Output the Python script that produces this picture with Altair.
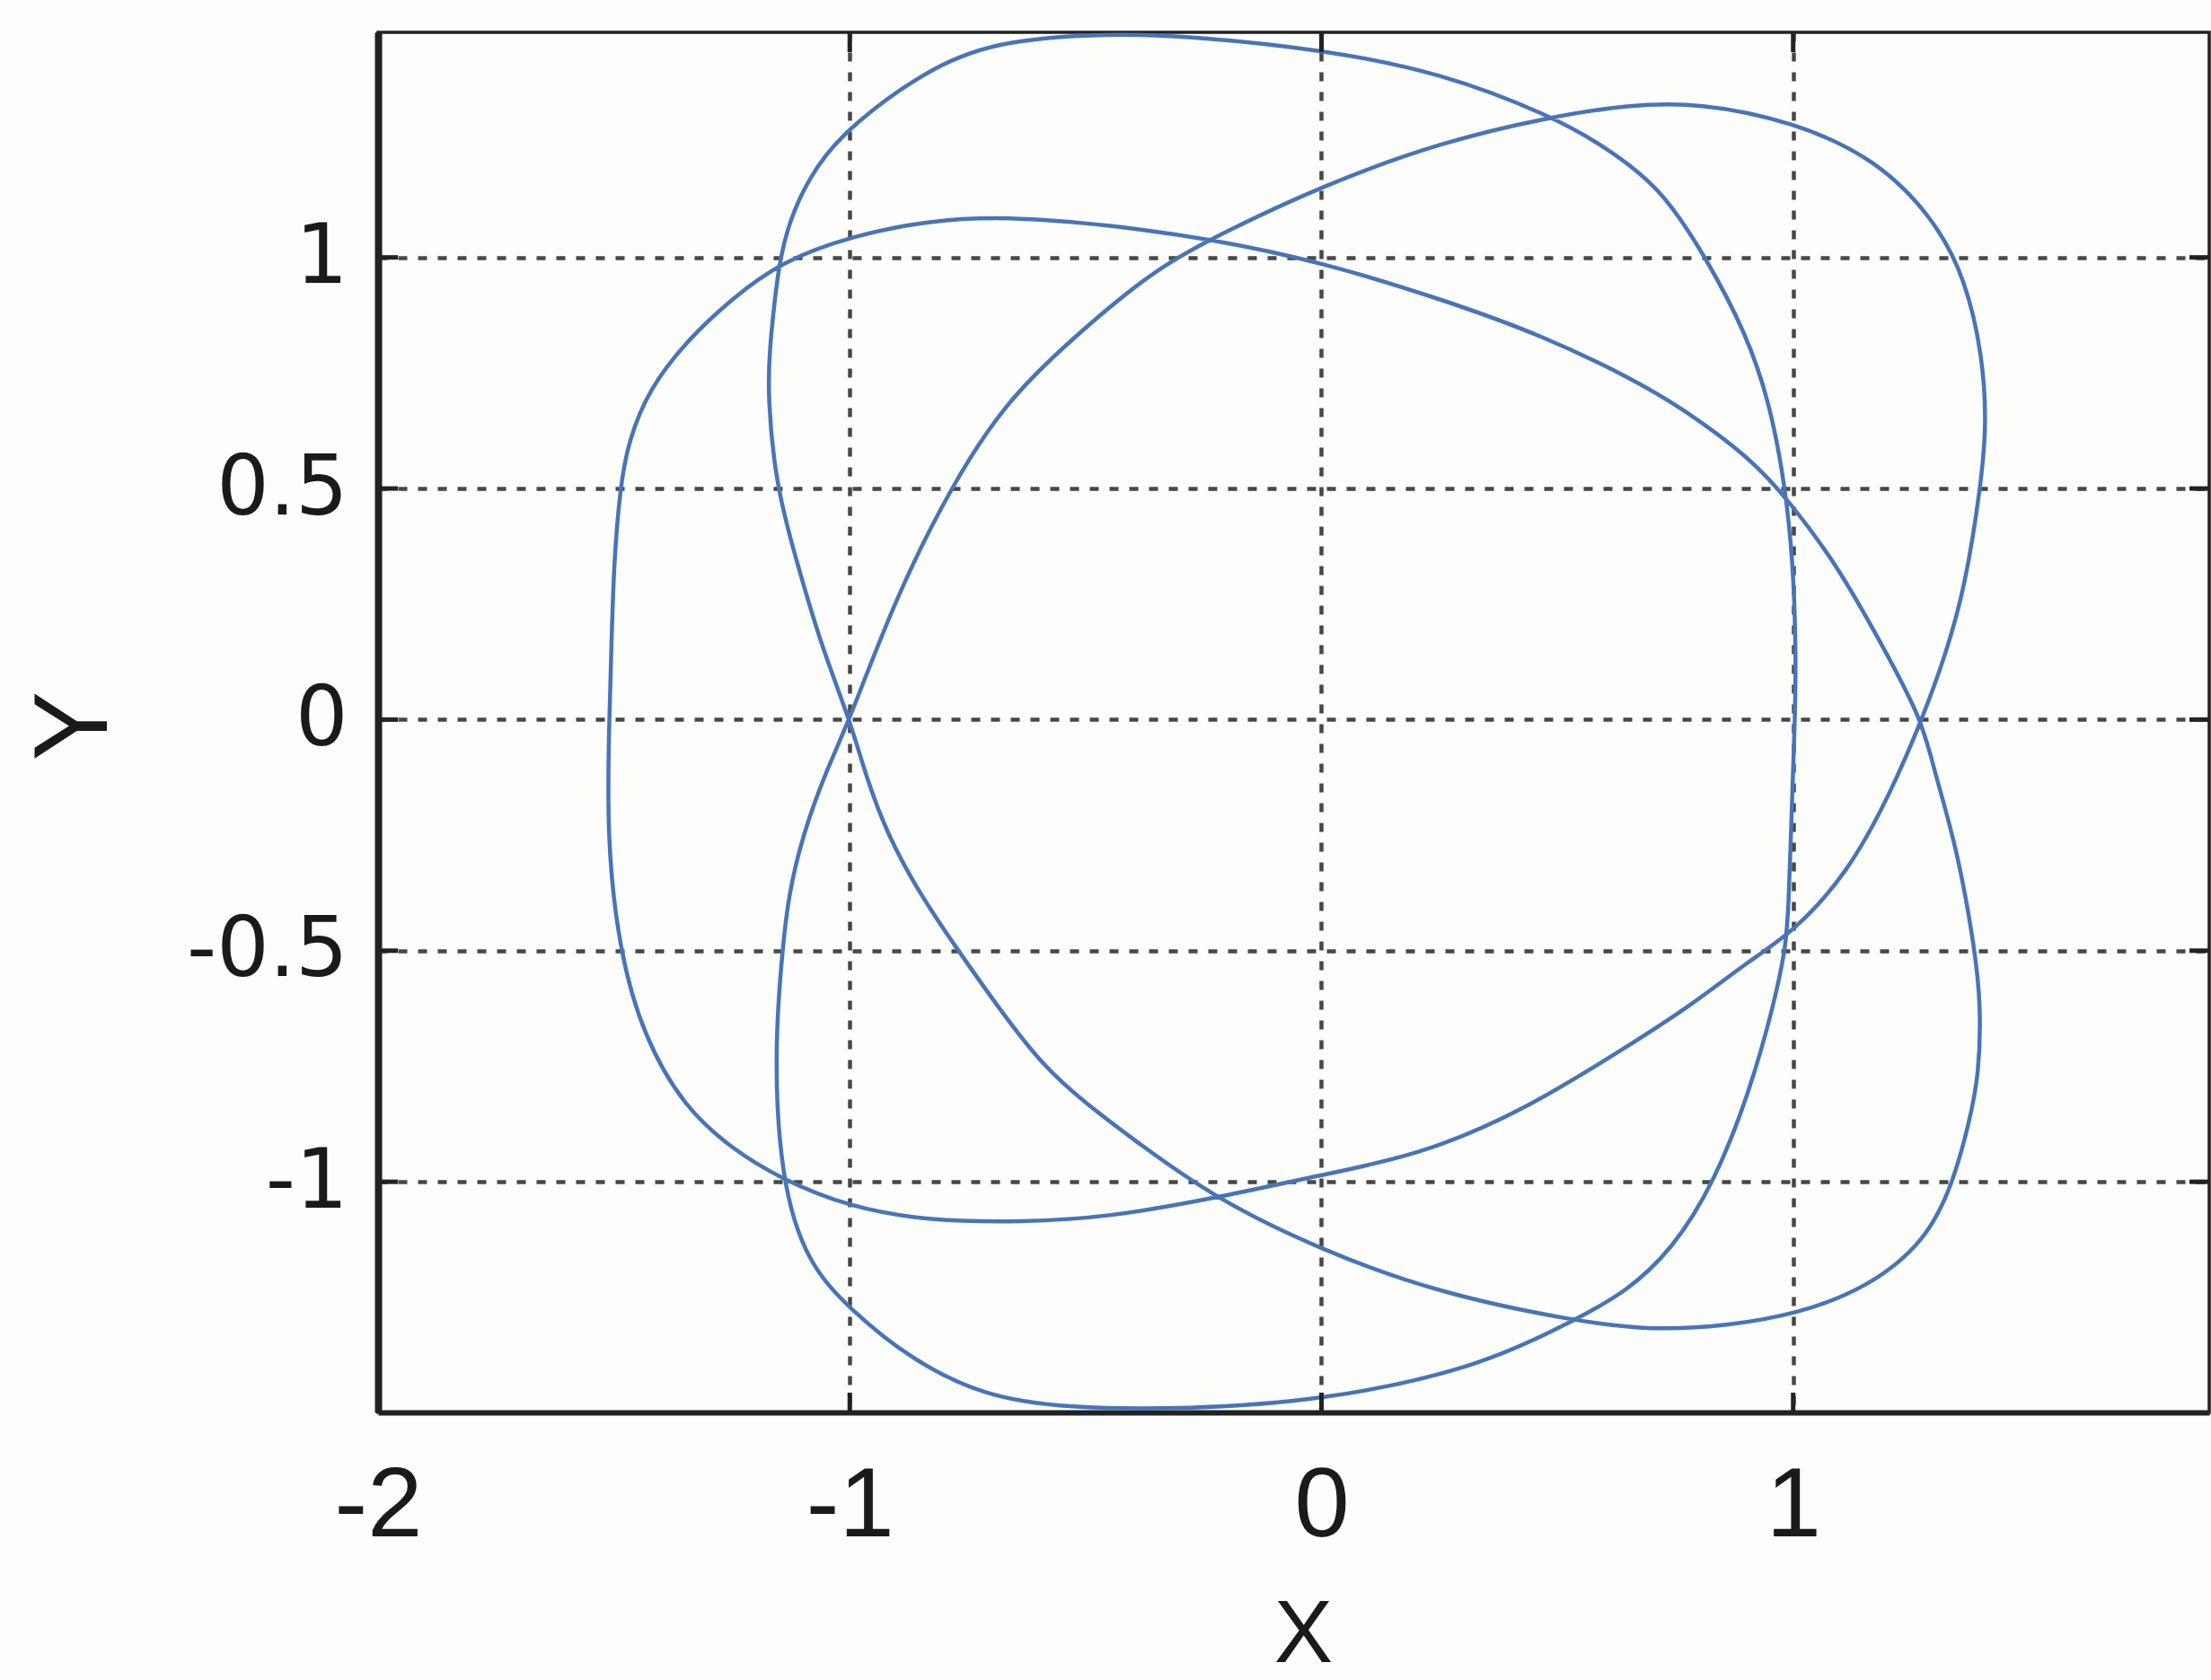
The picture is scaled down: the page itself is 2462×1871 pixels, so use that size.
import altair as alt
import pandas as pd

# Closed trajectory, listed point by point in drawing order
curve_x = [
    -1.51, -1.505, -1.50, -1.487, -1.47, -1.426, -1.339, -1.25, -1.148, -0.991,
    -0.83, -0.671, -0.446, -0.236, 0.0, 0.254, 0.472, 0.663, 0.76, 0.909,
    0.992, 1.091, 1.19, 1.273, 1.298, 1.348, 1.385, 1.398, 1.394, 1.373,
    1.34, 1.282, 1.157, 1.008, 0.867, 0.70, 0.534, 0.245, 0.0, -0.227,
    -0.41, -0.5, -0.59, -0.68, -0.77, -0.85, -0.92, -0.965, -1.0, -1.061,
    -1.113, -1.157, -1.174, -1.17, -1.16, -1.148, -1.122, -1.07, -1.0, -0.817,
    -0.671, -0.45, -0.27, 0.0, 0.254, 0.49, 0.594, 0.718, 0.818, 0.90,
    0.95, 0.983, 1.0, 1.006, 1.004, 0.998, 0.99, 0.983, 0.959, 0.909,
    0.834, 0.743, 0.644, 0.534, 0.332, 0.0, -0.28, -0.542, -0.717, -0.874,
    -0.996, -1.091, -1.147, -1.16, -1.143, -1.13, -1.10, -1.05, -1.0, -0.904,
    -0.783, -0.671, -0.534, -0.359, -0.236, 0.0, 0.254, 0.49, 0.65, 0.80,
    1.0, 1.174, 1.298, 1.365, 1.402, 1.41, 1.398, 1.365, 1.323, 1.273,
    1.207, 1.116, 1.0, 0.909, 0.785, 0.66, 0.42, 0.201, 0.0, -0.227,
    -0.455, -0.63, -0.831, -1.004, -1.147, -1.247, -1.351, -1.437, -1.489, -1.515,
]
curve_y = [
    0.0, 0.17, 0.34, 0.50, 0.60, 0.716, 0.827, 0.91, 0.99, 1.048,
    1.08, 1.089, 1.07, 1.04, 0.99, 0.91, 0.83, 0.735, 0.677, 0.567,
    0.472, 0.338, 0.159, 0.0, -0.107, -0.281, -0.495, -0.617, -0.77, -0.872,
    -1.0, -1.128, -1.23, -1.286, -1.311, -1.322, -1.301, -1.24, -1.148, -1.036,
    -0.90, -0.83, -0.75, -0.63, -0.5, -0.38, -0.25, -0.125, 0.0, 0.161,
    0.343, 0.509, 0.70, 0.80, 0.90, 1.0, 1.099, 1.20, 1.285, 1.42,
    1.470, 1.485, 1.478, 1.45, 1.40, 1.305, 1.244, 1.154, 0.995, 0.836,
    0.687, 0.507, 0.338, 0.15, 0.0, -0.158, -0.423, -0.5, -0.617, -0.801,
    -1.0, -1.148, -1.24, -1.301, -1.403, -1.474, -1.492, -1.49, -1.464, -1.382,
    -1.279, -1.177, -0.993, -0.716, -0.5, -0.38, -0.25, -0.11, 0.0, 0.262,
    0.509, 0.685, 0.82, 0.97, 1.04, 1.155, 1.25, 1.305, 1.33, 1.335,
    1.294, 1.214, 1.085, 0.955, 0.786, 0.637, 0.507, 0.289, 0.139, 0.0,
    -0.158, -0.332, -0.46, -0.52, -0.617, -0.70, -0.852, -0.944, -0.985, -1.036,
    -1.077, -1.087, -1.085, -1.054, -0.993, -0.931, -0.839, -0.686, -0.5, -0.256,
]

x_ticks = [-2, -1, 0, 1]
y_ticks = [-1, -0.5, 0, 0.5, 1]

W, H = 2039, 1537
x_dom = [-2, 1.882]
y_dom = [-1.499, 1.487]

FONT = "Liberation Sans"
YLABEL_FONT = "DejaVu Sans"
INK = "#1a1a1a"
TICK_LEN = 22

curve = pd.DataFrame({"x": curve_x, "y": curve_y, "i": list(range(len(curve_x)))})
xt = pd.DataFrame({"v": x_ticks})
yt = pd.DataFrame({"v": y_ticks})

xs = alt.Scale(domain=x_dom, nice=False, zero=False)
ys = alt.Scale(domain=y_dom, nice=False, zero=False)

label_expr = "datum.value < 0 ? '-' + format(-datum.value, '') : format(datum.value, '')"

grid_style = dict(
    grid=True,
    gridColor="#333333",
    gridDash=[10, 12],
    gridWidth=4.5,
    gridOpacity=0.9,
)

x_axis = alt.Axis(
    values=x_ticks,
    title="X",
    titleFont=FONT,
    titleFontSize=98,
    titleFontWeight="normal",
    titleColor=INK,
    titleX=1030,
    titleY=277,
    titleAlign="center",
    titleBaseline="alphabetic",
    labelFont=FONT,
    labelFontSize=110,
    labelColor=INK,
    labelPadding=50,
    labelFlush=False,
    labelOverlap=False,
    labelLimit=0,
    labelExpr=label_expr,
    ticks=False,
    tickSize=0,
    domain=True,
    domainColor="#222222",
    domainWidth=6,
    **grid_style,
)

y_axis = alt.Axis(
    values=y_ticks,
    title="Y",
    titleFont=FONT,
    titleFontSize=116,
    titleFontWeight="normal",
    titleColor=INK,
    titleAngle=270,
    titleX=-303,
    titleY=772,
    titleAlign="center",
    titleBaseline="alphabetic",
    labelFont=YLABEL_FONT,
    labelFontSize=92,
    labelColor=INK,
    labelPadding=34,
    labelOverlap=False,
    labelLimit=0,
    labelExpr=label_expr,
    ticks=False,
    tickSize=0,
    domain=True,
    domainColor="#222222",
    domainWidth=8,
    **grid_style,
)

line = alt.Chart(curve).mark_line(
    color="#4874b8",
    strokeWidth=4.5,
    interpolate="basis-closed",
).encode(
    x=alt.X("x:Q", scale=xs, axis=x_axis),
    y=alt.Y("y:Q", scale=ys, axis=y_axis),
    order="i:Q",
)

# Inward-pointing major ticks on all four sides of the box
tick_mark = dict(color="#222222", strokeWidth=5)
left_ticks = alt.Chart(yt).mark_rule(**tick_mark).encode(
    y=alt.Y("v:Q", scale=ys, axis=y_axis), x=alt.value(0), x2=alt.value(TICK_LEN)
)
right_ticks = alt.Chart(yt).mark_rule(**tick_mark).encode(
    y=alt.Y("v:Q", scale=ys, axis=y_axis), x=alt.value(W - TICK_LEN), x2=alt.value(W)
)
top_ticks = alt.Chart(xt).mark_rule(**tick_mark).encode(
    x=alt.X("v:Q", scale=xs, axis=x_axis), y=alt.value(0), y2=alt.value(TICK_LEN)
)
bottom_ticks = alt.Chart(xt).mark_rule(**tick_mark).encode(
    x=alt.X("v:Q", scale=xs, axis=x_axis), y=alt.value(H - TICK_LEN), y2=alt.value(H)
)

chart = (
    alt.layer(line, left_ticks, right_ticks, top_ticks, bottom_ticks)
    .properties(
        width=W,
        height=H,
        autosize=alt.AutoSizeParams(type="none"),
        padding={"left": 421, "top": 36, "right": 2, "bottom": 298},
        background="#fdfdfb",
    )
    .configure_view(stroke="#222222", strokeWidth=3.5)
)

chart.save("out.html", embed_options={"renderer": "svg", "actions": False})
